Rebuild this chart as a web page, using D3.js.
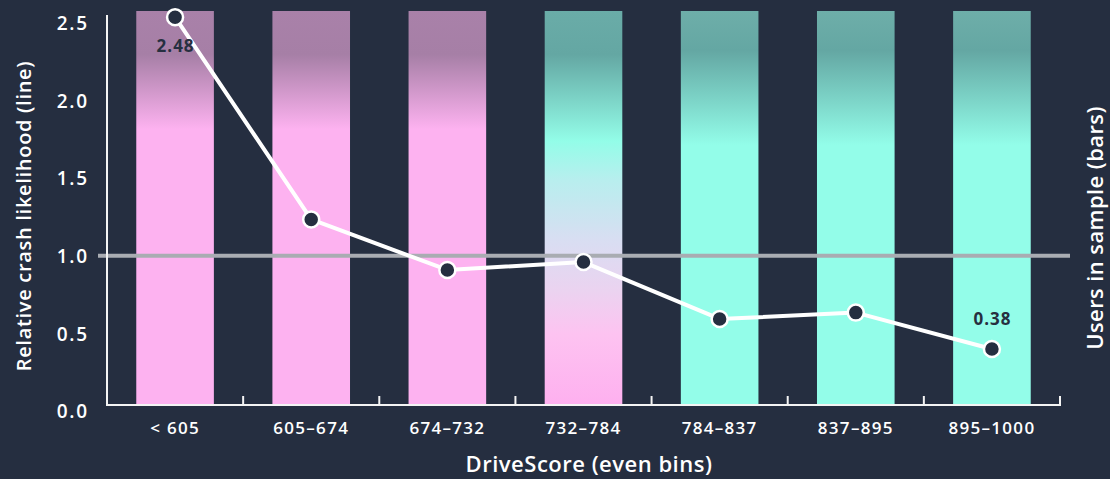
<!DOCTYPE html>
<html><head><meta charset="utf-8">
<script src="https://cdn.jsdelivr.net/npm/d3@7"></script>
<style>
html,body{margin:0;padding:0;background:#252e40;}
svg{display:block;}
text{font-family:"Open Sans",Lato,sans-serif;}
</style></head><body>
<svg id="chart" width="1110" height="479"></svg>
<script>
// ---- data ----
const categories = ["< 605","605–674","674–732","732–784","784–837","837–895","895–1000"];
const crashLikelihood = [2.48, 1.20, 0.88, 0.93, 0.57, 0.61, 0.38];
const usersInSample = [100, 100, 100, 100, 100, 100, 100]; // even bins: equal users per bin
const riskGroup = ["high","high","high","mixed","low","low","low"];
const yTicks = [0, 0.5, 1.0, 1.5, 2.0, 2.5];
const referenceValue = 0.97;
const labelledPoints = [0, 6];

// ---- layout ----
const left = 107, right = 1060, axisY = 405;
const svg = d3.select("#chart");

const x = d3.scaleBand().domain(categories).range([left, right]).paddingInner(0.43).paddingOuter(0.215);
const y = d3.scaleLinear().domain([0, 2.5]).range([409, 14]);
const yBars = d3.scaleLinear().domain([0, d3.max(usersInSample)]).range([axisY, 11]);

// gradients
const defs = svg.append("defs");
const gradStops = {
  high: [[0,"#a981a9"],[0.11,"#a67fa6"],[0.30,"#fdb2f0"],[1,"#fdb2f0"]],
  low: [[0,"#6eaea9"],[0.10,"#64a7a3"],[0.34,"#93fde9"],[1,"#93fde9"]],
  mixed: [[0,"#6aaca8"],[0.11,"#64a7a3"],[0.33,"#93fde8"],[0.43,"#b8eeee"],[0.58,"#d8def2"],[0.71,"#ebd3f0"],[0.82,"#fdc3f1"],[1,"#feb0ef"]]
};
Object.entries(gradStops).forEach(([k, stops]) => {
  const g = defs.append("linearGradient").attr("id","g-"+k).attr("x1",0).attr("x2",0).attr("y1",0).attr("y2",1);
  stops.forEach(s => g.append("stop").attr("offset", s[0]).attr("stop-color", s[1]));
});

// bars
svg.append("g").selectAll("rect").data(categories).join("rect")
  .attr("x", d => x(d))
  .attr("width", x.bandwidth())
  .attr("y", (d,i) => yBars(usersInSample[i]))
  .attr("height", (d,i) => axisY - yBars(usersInSample[i]))
  .attr("fill", (d,i) => "url(#g-" + riskGroup[i] + ")");

// reference line
svg.append("line")
  .attr("x1", left - 9).attr("x2", right + 10)
  .attr("y1", y(referenceValue)).attr("y2", y(referenceValue))
  .attr("stroke", "#a9acb2").attr("stroke-width", 4);

// y axis
const yAxis = svg.append("g").attr("transform", `translate(${left - 19},0)`)
  .call(d3.axisLeft(y).tickValues(yTicks).tickFormat(d3.format(".1f")).tickSize(0));
yAxis.select(".domain").remove();
yAxis.selectAll("text").attr("fill", "#ffffff").attr("font-size", 19).attr("font-weight", 600)
  .attr("letter-spacing", 1.8)
  .attr("x", 1).attr("dy", d => (8.8 + 2.6 * d) + "px");

svg.append("line").attr("x1", left).attr("x2", left).attr("y1", 15).attr("y2", axisY + 1)
  .attr("stroke", "#f4f4f4").attr("stroke-width", 2);

// x axis
svg.append("line").attr("x1", left).attr("x2", right + 1).attr("y1", axisY).attr("y2", axisY)
  .attr("stroke", "#f4f4f4").attr("stroke-width", 2);
const step = x.step(), off = (step - x.bandwidth()) / 2;
const boundaries = categories.map(c => x(c) - off).slice(1).concat([right]);
svg.append("g").selectAll("line").data(boundaries).join("line")
  .attr("x1", d => d).attr("x2", d => d).attr("y1", axisY).attr("y2", axisY - 9)
  .attr("stroke", "#f4f4f4").attr("stroke-width", 2);

const xAxis = svg.append("g").attr("transform", `translate(0,${axisY})`)
  .call(d3.axisBottom(x).tickSize(0));
xAxis.select(".domain").remove();
xAxis.selectAll("text").attr("fill", "#ffffff").attr("font-size", 17).attr("font-weight", 600)
  .attr("letter-spacing", 1.3)
  .attr("y", 23).attr("dy", "0.35em");

// line
const pts = categories.map((c, i) => [x(c) + x.bandwidth() / 2, y(crashLikelihood[i])]);
svg.append("path").attr("d", d3.line()(pts)).attr("fill", "none")
  .attr("stroke", "#ffffff").attr("stroke-width", 4).attr("stroke-linejoin", "round");
svg.append("g").selectAll("circle").data(pts).join("circle")
  .attr("cx", d => d[0]).attr("cy", d => d[1]).attr("r", 8)
  .attr("fill", "#252e40").attr("stroke", "#ffffff").attr("stroke-width", 2.5);

// value labels
svg.append("g").selectAll("text").data(labelledPoints).join("text")
  .attr("x", i => pts[i][0] + 0.5)
  .attr("y", (i, k) => k === 0 ? pts[i][1] + 28 : pts[i][1] - 30)
  .attr("text-anchor", "middle").attr("dominant-baseline", "central")
  .attr("fill", "#262f40").attr("font-size", 17).attr("font-weight", 700)
  .attr("letter-spacing", 1)
  .text(i => crashLikelihood[i].toFixed(2));

// axis titles
svg.append("text").attr("x", 589).attr("y", 463).attr("text-anchor", "middle")
  .attr("dominant-baseline", "central").attr("fill", "#ffffff")
  .attr("font-size", 22).attr("font-weight", 600).attr("letter-spacing", 0.5)
  .text("DriveScore (even bins)");
svg.append("text").attr("transform", "translate(23,216) rotate(-90)").attr("text-anchor", "middle")
  .attr("dominant-baseline", "central").attr("fill", "#ffffff")
  .attr("font-size", 20).attr("font-weight", 600).attr("letter-spacing", 0.7)
  .text("Relative crash likelihood (line)");
svg.append("text").attr("transform", "translate(1094,228) rotate(-90)").attr("text-anchor", "middle")
  .attr("dominant-baseline", "central").attr("fill", "#ffffff")
  .attr("font-size", 22).attr("font-weight", 600).attr("letter-spacing", 0.4)
  .text("Users in sample (bars)");
</script>
</body></html>
